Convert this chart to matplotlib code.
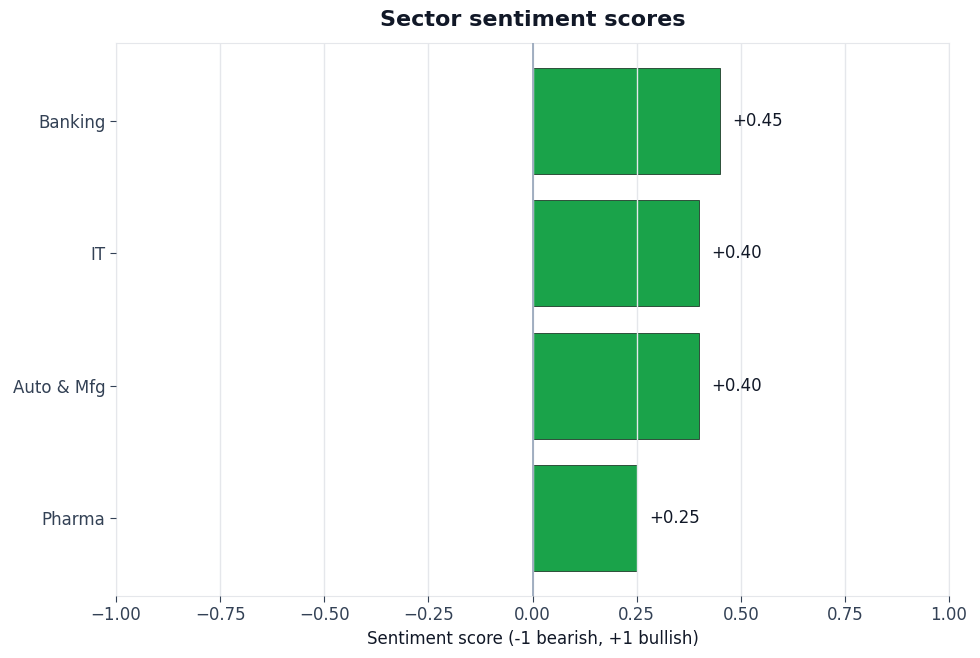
import matplotlib
matplotlib.use("Agg")
import matplotlib.pyplot as plt

plt.rcParams["font.family"] = ["DejaVu Sans"]

sectors = ["Banking", "IT", "Auto & Mfg", "Pharma"]
scores = [0.45, 0.40, 0.40, 0.25]

fig = plt.figure(figsize=(9.8, 6.58), dpi=100)
ax = fig.add_axes([116/980, 1-596/658, (949-116)/980, (596-43)/658])

ypos = list(range(len(sectors)))[::-1]
ax.barh(ypos, scores, height=0.8, color="#1aa34a", edgecolor="#1f3b2a", linewidth=0.6, zorder=2)
ax.axvline(0, color="#94a3b8", linewidth=1.2, zorder=3)

for y, v in zip(ypos, scores):
    ax.text(v + 0.03, y, f"{v:+.2f}", va="center", ha="left", fontsize=12, color="#111827")

ax.set_xlim(-1, 1)
ax.set_xticks([-1, -0.75, -0.5, -0.25, 0, 0.25, 0.5, 0.75, 1.0])
ax.set_xticklabels(["\u22121.00", "\u22120.75", "\u22120.50", "\u22120.25", "0.00", "0.25", "0.50", "0.75", "1.00"])
ax.set_yticks(ypos)
ax.set_yticklabels(sectors)
ax.grid(axis="x", color="#e5e7eb", linewidth=1.0, zorder=2.5)
ax.set_axisbelow(False)
for s in ax.spines.values():
    s.set_color("#e5e7eb")
ax.tick_params(colors="#334155", labelsize=12, length=4)
ax.set_xlabel("Sentiment score (-1 bearish, +1 bullish)", fontsize=12, color="#111827", labelpad=4)
ax.set_title("Sector sentiment scores", fontsize=16, fontweight="bold", color="#111827", pad=12)

fig.savefig("out.png", dpi=100)
